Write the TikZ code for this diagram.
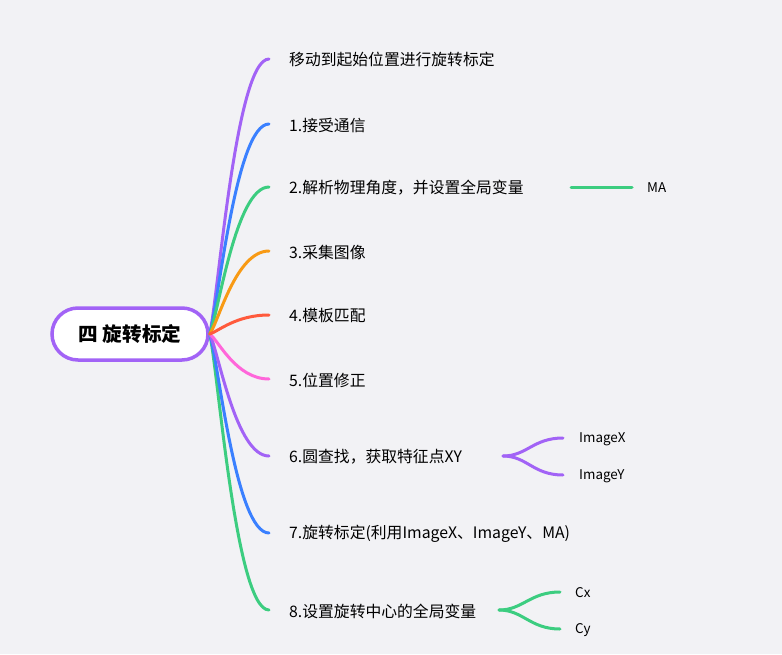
\documentclass[tikz,border=0pt]{standalone}
\usepackage{fontspec}
\setmainfont{Noto Sans CJK SC}
\usepackage{tikz}
\usetikzlibrary{positioning, calc}
\definecolor{bgcol}{HTML}{F2F2F5}
\definecolor{cpurple}{HTML}{A263F6}
\definecolor{cblue}{HTML}{3A80FF}
\definecolor{cgreen}{HTML}{3CCD80}
\definecolor{corange}{HTML}{F89A14}
\definecolor{cred}{HTML}{FF5A3C}
\definecolor{cpink}{HTML}{FF66DA}
\tikzset{
    root/.style = {rectangle, draw=cpurple, line width=3.5pt, fill=white, rounded corners=26pt, minimum width=156pt, minimum height=52pt, font=\fontsize{19.6}{22}\selectfont\bfseries},
    topic/.style = {anchor=west, inner sep=0pt, font=\fontsize{15.8}{18}\selectfont},
    subtopic/.style = {anchor=west, inner sep=0pt, font=\fontsize{13.4}{15}\selectfont},
    branch/.style = {draw, line width=3pt, line cap=round},
    curve/.style = {to path={.. controls ($(\tikztostart)!0.15!(\tikztotarget)$) and ($(\tikztotarget)+(-33,0)$) .. (\tikztotarget)}},
    fork/.style = {to path={.. controls ($(\tikztostart)+(24,0)$) and ($(\tikztotarget)+(-30,0)$) .. (\tikztotarget)}}
}
\begin{document}
\begin{tikzpicture}[x=1pt, y=-1pt]
        % Background and bounds
        \fill [bgcol] (0,0) rectangle (782,654);
        \useasboundingbox (0,0) rectangle (782,654);
        
        % Central topic
        \node [root] (root) at (130,334) {四 旋转标定};
        
        % Main topics
        \node [topic] (move) at (289,60) {移动到起始位置进行旋转标定};
        \node [topic] (recv) at (289,125) {1.接受通信};
        \node [topic] (angle) at (289,188) {2.解析物理角度，并设置全局变量};
        \node [topic] (grab) at (289,252) {3.采集图像};
        \node [topic] (match) at (289,316) {4.模板匹配};
        \node [topic] (fix) at (289,380) {5.位置修正};
        \node [topic] (circle) at (289,457) {6.圆查找，获取特征点XY};
        \node [topic] (calib) at (289,534) {7.旋转标定(利用ImageX、ImageY、MA)};
        \node [topic] (center) at (289,611) {8.设置旋转中心的全局变量};
        
        % Sub topics
        \node [subtopic] (ma) at (647,188) {MA};
        \node [subtopic] (imgx) at (579,439) {ImageX};
        \node [subtopic] (imgy) at (579,476) {ImageY};
        \node [subtopic] (cx) at (575,593) {Cx};
        \node [subtopic] (cy) at (575,630) {Cy};
        
        % Branch ends
        \foreach \n in {move, recv, angle, grab, match, fix, circle, calib, center}
            \coordinate (\n-end) at ([xshift=-20pt, yshift=1pt]\n.west);
        \coordinate (ma-a) at ([xshift=-76pt, yshift=1pt]ma.west);
        \coordinate (ma-b) at ([xshift=-15pt, yshift=1pt]ma.west);
        \coordinate (circle-fork) at (503,456);
        \coordinate (imgx-end) at ([xshift=-16pt, yshift=1pt]imgx.west);
        \coordinate (imgy-end) at ([xshift=-16pt, yshift=1pt]imgy.west);
        \coordinate (center-fork) at (499,610);
        \coordinate (cx-end) at ([xshift=-15pt, yshift=1pt]cx.west);
        \coordinate (cy-end) at ([xshift=-15pt, yshift=1pt]cy.west);
        
        % Branches
        \path [branch, cgreen] (root.east) to[curve] (center-end);
        \path [branch, cblue] (root.east) to[curve] (calib-end);
        \path [branch, cpurple] (root.east) to[curve] (circle-end);
        \path [branch, cpink] (root.east) to[curve] (fix-end);
        \path [branch, cpurple] (root.east) to[curve] (move-end);
        \path [branch, cblue] (root.east) to[curve] (recv-end);
        \path [branch, cgreen] (root.east) to[curve] (angle-end);
        \path [branch, corange] (root.east) to[curve] (grab-end);
        \path [branch, cred] (root.east) to[curve] (match-end);
        
        % Sub branches
        \path [branch, cgreen] (ma-a) -- (ma-b);
        \path [branch, cpurple] (circle-fork) to[fork] (imgx-end);
        \path [branch, cpurple] (circle-fork) to[fork] (imgy-end);
        \path [branch, cgreen] (center-fork) to[fork] (cx-end);
        \path [branch, cgreen] (center-fork) to[fork] (cy-end);
        
\end{tikzpicture}
\end{document}
